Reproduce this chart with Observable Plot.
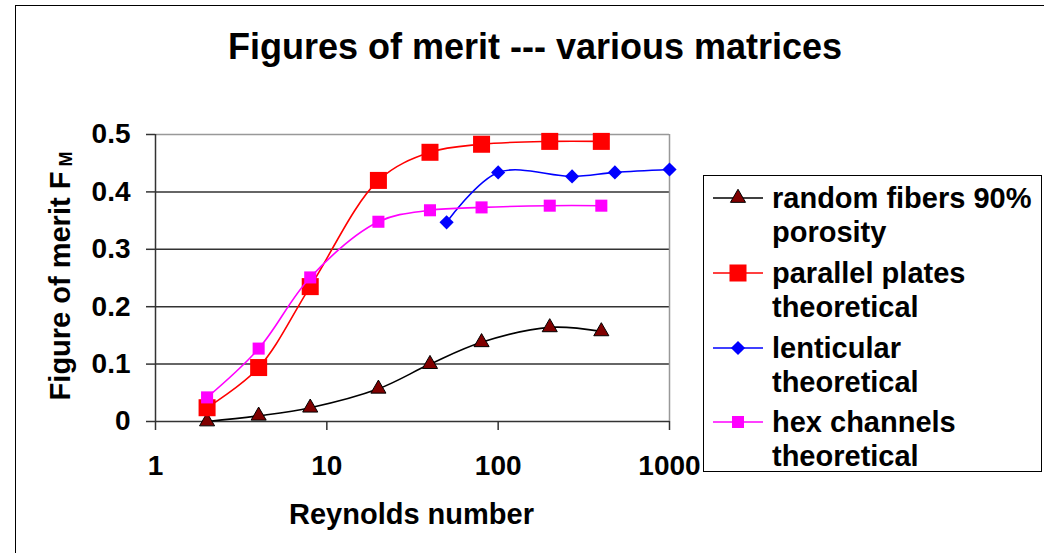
<!DOCTYPE html>
<html>
<head>
<meta charset="utf-8">
<script src="https://cdn.jsdelivr.net/npm/d3@7"></script>
<script src="https://cdn.jsdelivr.net/npm/@observablehq/plot@0.6"></script>
<style>
  html, body { margin: 0; padding: 0; background: white; }
  #wrap { position: relative; width: 1044px; height: 553px; overflow: hidden; font-family: "Liberation Sans", Arial, sans-serif; font-weight: bold; color: black; }
  #outer { position: absolute; left: 15px; top: 5px; width: 1100px; height: 600px; border: 1.5px solid black; box-sizing: border-box; }
  #chart { position: absolute; left: 0; top: 0; }
  .txt { position: absolute; white-space: nowrap; }
  #title { left: 0; width: 1070px; top: 27px; text-align: center; font-size: 36px; line-height: 40px; }
  #xlabel { left: 289px; top: 497px; font-size: 29px; line-height: 34px; }
  #ylabel { position: absolute; left: 0; top: 0; }
  #legend { position: absolute; left: 703px; top: 175px; width: 339px; height: 297px; border: 1.5px solid black; box-sizing: border-box; background: white; }
  .leg { position: absolute; left: 68px; font-size: 29px; line-height: 34px; white-space: nowrap; }
</style>
</head>
<body>
<div id="wrap">
  <div id="outer"></div>
  <div id="chart"></div>
  <div id="title" class="txt">Figures of merit --- various matrices</div>
  <div id="xlabel" class="txt">Reynolds number</div>
  <svg id="ylabel" width="120" height="553">
    <text transform="translate(70,276) rotate(-90)" text-anchor="middle" font-family="Liberation Sans, Arial, sans-serif" font-weight="bold" font-size="29">Figure of merit F<tspan font-size="18" dy="2"> M</tspan></text>
  </svg>
  <div id="legend"></div>
</div>
<script>
// ---- data ----
const reynolds = [2, 4, 8, 20, 40, 80, 200, 400];
const randomFibers = [0, 0.01, 0.024, 0.057, 0.1, 0.138, 0.164, 0.157];
const parallelPlates = [0.024, 0.094, 0.235, 0.42, 0.469, 0.483, 0.488, 0.488];
const lenticularRe = [50, 100, 270, 480, 1000];
const lenticular = [0.347, 0.434, 0.427, 0.434, 0.439];
const hexChannels = [0.042, 0.127, 0.251, 0.348, 0.368, 0.373, 0.376, 0.376];
const xTicks = [1, 10, 100, 1000];
const yTicks = [0, 0.1, 0.2, 0.3, 0.4, 0.5];
const seriesNames = ["random fibers 90% porosity", "parallel plates theoretical", "lenticular theoretical", "hex channels theoretical"];
const legendLines = [["random fibers 90%", "porosity"], ["parallel plates", "theoretical"], ["lenticular", "theoretical"], ["hex channels", "theoretical"]];

// ---- series styling ----
const styles = [
  {line: "black", symbol: "triangle", r: 5.6, fill: "#800000", stroke: "black"},
  {line: "#ff0000", symbol: "square", r: 9.6, fill: "#ff0000", stroke: "none"},
  {line: "#0000ff", symbol: "diamond2", r: 6.4, fill: "#0000ff", stroke: "none"},
  {line: "#ff00ff", symbol: "square", r: 6.8, fill: "#ff00ff", stroke: "none"}
];
const tables = [
  reynolds.map((x, i) => ({x, y: randomFibers[i]})),
  reynolds.map((x, i) => ({x, y: parallelPlates[i]})),
  lenticularRe.map((x, i) => ({x, y: lenticular[i]})),
  reynolds.map((x, i) => ({x, y: hexChannels[i]}))
];

const marks = [
  Plot.ruleY(yTicks.filter(d => d > 0 && d < 0.5), {stroke: "#333", strokeWidth: 1.5}),
  Plot.ruleY([0.5], {stroke: "#999", strokeWidth: 1.5}),
  Plot.ruleX([1000], {stroke: "#999", strokeWidth: 1.5}),
  Plot.ruleY([0], {stroke: "#333", strokeWidth: 1.5}),
  Plot.ruleX([1], {stroke: "#333", strokeWidth: 1.5}),
  Plot.axisX({ticks: xTicks, tickFormat: d => String(d), tickSize: 9, tickPadding: 25, label: null, stroke: "#333", strokeWidth: 1.5}),
  Plot.axisY({ticks: yTicks, tickFormat: d => String(d), tickSize: 9, tickPadding: 16, label: null, stroke: "#333", strokeWidth: 1.5})
];
tables.forEach((t, i) => {
  const s = styles[i];
  marks.push(Plot.line(t, {x: "x", y: "y", stroke: s.line, strokeWidth: 1.6, curve: "catmull-rom"}));
  marks.push(Plot.dot(t, {x: "x", y: "y", symbol: () => s.symbol, r: s.r, fill: s.fill, stroke: s.stroke, strokeWidth: 1}));
});

const chart = Plot.plot({
  width: 1044,
  height: 553,
  marginLeft: 155,
  marginRight: 375,
  marginTop: 134,
  marginBottom: 132,
  x: {type: "log", domain: [1, 1000]},
  y: {domain: [0, 0.5]},
  style: {fontFamily: "Liberation Sans, Arial, sans-serif", fontSize: "28px", fontWeight: "bold", color: "black", background: "transparent", overflow: "visible"},
  marks
});
document.getElementById("chart").appendChild(chart);

// ---- legend ----
const legend = document.getElementById("legend");
const lsvg = d3.select(legend).append("svg").attr("width", 339).attr("height", 297)
  .style("position", "absolute").style("left", "-1.5px").style("top", "-1.5px");
const rowTops = [23, 98, 173, 247];
styles.forEach((s, i) => {
  const cy = rowTops[i];
  lsvg.append("line").attr("x1", 10).attr("x2", 60).attr("y1", cy).attr("y2", cy)
    .attr("stroke", s.line).attr("stroke-width", 1.6);
  const sym = {triangle: d3.symbolTriangle, square: d3.symbolSquare, diamond2: d3.symbolDiamond2}[s.symbol];
  lsvg.append("path").attr("d", d3.symbol(sym, Math.PI * s.r * s.r)())
    .attr("transform", `translate(35,${cy})`)
    .attr("fill", s.fill).attr("stroke", s.stroke);
  legendLines[i].forEach((t, j) => {
    const d = document.createElement("div");
    d.className = "leg";
    d.textContent = t;
    d.style.top = (cy - 17 + j * 34 - 1.5) + "px";
    legend.appendChild(d);
  });
});
</script>
</body>
</html>
